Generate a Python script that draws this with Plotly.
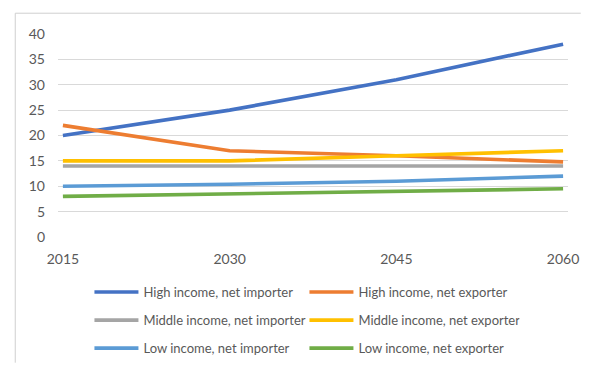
import plotly.graph_objects as go

years = [2015, 2030, 2045, 2060]

series_names = [
    "High income, net importer",
    "High income, net exporter",
    "Middle income, net importer",
    "Middle income, net exporter",
    "Low income, net importer",
    "Low income, net exporter",
]

high_importer = [20, 25, 31, 38]
high_exporter = [22, 17, 16, 14.8]
middle_importer = [14, 14, 14, 14]
middle_exporter = [15, 15, 16, 17]
low_importer = [10, 10.4, 11, 12]
low_exporter = [8, 8.5, 9.1, 9.5]

series_values = [high_importer, high_exporter, middle_importer,
                 middle_exporter, low_importer, low_exporter]
colors = ["#4472C4", "#ED7D31", "#A5A5A5", "#FFC000", "#5B9BD5", "#70AD47"]
legend_ids = ["legend", "legend", "legend2", "legend2", "legend3", "legend3"]

y_ticks = [0, 5, 10, 15, 20, 25, 30, 35, 40]

FONT = "Lato"
TEXT_COLOR = "#595959"

fig = go.Figure()
for name, vals, col, lg in zip(series_names, series_values, colors, legend_ids):
    fig.add_trace(go.Scatter(
        x=years, y=vals, name=name, mode="lines",
        line=dict(color=col, width=3.6),
        legend=lg,
    ))

W, H = 591, 375
L, R, T, B = 58, 14, 34, 131
pw = W - L - R
ph = H - T - B
pad_years = 5 / ((pw - 10) / 45)


def px_x(x):
    return (x - L) / pw


def px_y(y):
    return (H - B - y) / ph


def legend_row(y_px):
    return dict(
        orientation="h", x=px_x(90), xanchor="left",
        y=px_y(y_px), yanchor="middle",
        entrywidth=156, entrywidthmode="pixels",
        itemwidth=44, bgcolor="rgba(0,0,0,0)",
        font=dict(family=FONT, size=13, color=TEXT_COLOR),
        traceorder="normal",
    )


# chart-area frame: only the left and top edges fall inside the canvas
frame = dict(color="#CFCFCF", width=1)
shapes = [
    dict(type="line", xref="paper", yref="paper",
         x0=px_x(14.5), x1=px_x(W - 1), y0=px_y(12.5), y1=px_y(12.5),
         line=frame, layer="above"),
    dict(type="line", xref="paper", yref="paper",
         x0=px_x(14.5), x1=px_x(14.5), y0=px_y(12.5), y1=px_y(H - 1),
         line=frame, layer="above"),
]

fig.update_layout(
    width=W, height=H,
    margin=dict(l=L, r=R, t=T, b=B),
    paper_bgcolor="white", plot_bgcolor="white",
    font=dict(family=FONT, size=14, color=TEXT_COLOR),
    showlegend=True,
    legend=legend_row(301),
    legend2=legend_row(330),
    legend3=legend_row(359),
    xaxis=dict(
        range=[years[0] - pad_years, years[-1] + pad_years],
        tickmode="array", tickvals=years, ticktext=[str(y) for y in years],
        showgrid=False, zeroline=False, showline=False,
        ticks="", ticklabelstandoff=12,
        tickfont=dict(family=FONT, size=14, color=TEXT_COLOR),
    ),
    yaxis=dict(
        range=[0, 40], tickmode="array", tickvals=y_ticks,
        showgrid=True, gridcolor="#D9D9D9", gridwidth=1,
        zeroline=False, showline=False, ticks="", ticklabelstandoff=12,
        tickfont=dict(family=FONT, size=14, color=TEXT_COLOR),
    ),
    shapes=shapes,
)

fig.write_html("out.html")
